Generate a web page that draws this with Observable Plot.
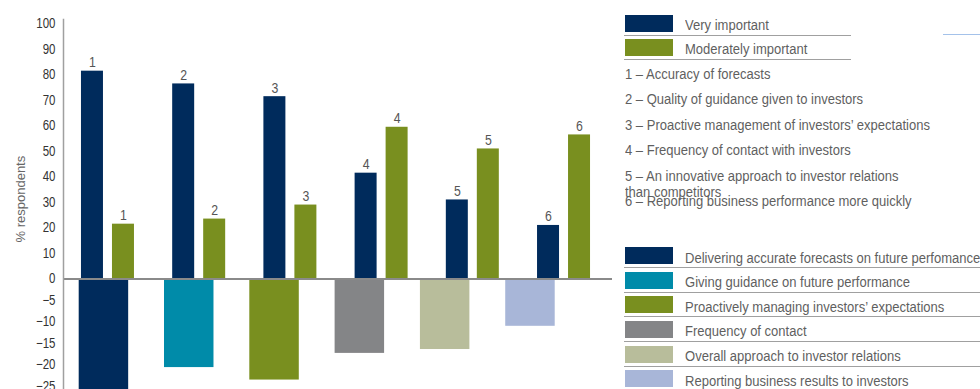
<!DOCTYPE html>
<html><head><meta charset="utf-8">
<script src="https://cdn.jsdelivr.net/npm/d3@7"></script>
<script src="https://cdn.jsdelivr.net/npm/@observablehq/plot@0.6"></script>
<style>
body{margin:0;background:#fff;}
#wrap{position:relative;width:980px;height:389px;overflow:hidden;font-family:'Liberation Sans',Arial,sans-serif;color:#5f5f5f;}
#wrap svg{position:absolute;left:0;top:0;}
.sw{position:absolute;left:625px;width:48px;height:17px;}
.lab,.item{position:absolute;font-size:15.5px;line-height:17px;white-space:nowrap;transform:scaleX(0.84);transform-origin:0 0;}
.lab{left:685px;}
.item{left:625px;}
.hr{position:absolute;height:0;border-top:1.5px solid #a0a0a0;}
</style></head><body><div id="wrap"></div>
<script>
const groups = ["1","2","3","4","5","6"];
const veryImportant = [81.5,76.5,71.5,41.5,31,21];
const moderatelyImportant = [21.5,23.5,29,59.5,51,56.5];
const seriesNames = ["Very important","Moderately important"];
const seriesColors = ["#002b5c","#798f1f"];
const factorLabels = [
  "1 – Accuracy of forecasts",
  "2 – Quality of guidance given to investors",
  "3 – Proactive management of investors’ expectations",
  "4 – Frequency of contact with investors",
  "5 – An innovative approach to investor relations\nthan competitors",
  "6 – Reporting business performance more quickly"
];
const lowerCategories = [
  "Delivering accurate forecasts on future perfomance",
  "Giving guidance on future performance",
  "Proactively managing investors’ expectations",
  "Frequency of contact",
  "Overall approach to investor relations",
  "Reporting business results to investors"
];
const lowerValues = [-30,-20.6,-23.5,-17.3,-16.4,-11];
const lowerColors = ["#002b5c","#008ba9","#798f1f","#848587","#b8bd9b","#a8b6d8"];
const upperTicks = [0,10,20,30,40,50,60,70,80,90,100];
const lowerTicks = [-5,-10,-15,-20,-25];

const font = "'Liberation Sans',Arial,sans-serif";
const wrap = document.getElementById("wrap");

// condense short chart texts (the reference uses a condensed face)
function condense(svg){
  svg.querySelectorAll("text").forEach(t=>{
    const tr = t.getAttribute("transform");
    if (tr && !tr.includes("rotate")) t.setAttribute("transform", tr + " scale(0.82,1)");
  });
  return svg;
}

const upper = groups.map((g,i)=>({group:g, very:veryImportant[i], moderate:moderatelyImportant[i]}));
const topPlot = Plot.plot({
  width:612, height:389, marginTop:23.5, marginBottom:110.5, marginLeft:63, marginRight:0,
  style:{background:"transparent", fontFamily:font, fontSize:"14px", color:"#333"},
  x:{domain:groups, range:[63,608], paddingInner:0.419, paddingOuter:0.197, round:false, axis:null},
  y:{domain:[0,100], axis:null},
  marks:[
    Plot.barY(upper, {x:"group", y:"very", fill:seriesColors[0], insetRight:31}),
    Plot.barY(upper, {x:"group", y:"moderate", fill:seriesColors[1], insetLeft:31}),
    Plot.text(upper, {x:"group", y:"very", text:"group", dx:-15.5, dy:-4, lineAnchor:"bottom", fontSize:15, fill:"#555"}),
    Plot.text(upper, {x:"group", y:"moderate", text:"group", dx:15.5, dy:-4, lineAnchor:"bottom", fontSize:15, fill:"#555"}),
    Plot.axisY({ticks:upperTicks, tickSize:0, tickPadding:8, label:null, fontSize:14, color:"#333"})
  ]
});
wrap.appendChild(condense(topPlot));

const lower = lowerCategories.map((c,i)=>({cat:c, value:lowerValues[i]}));
const lowPlot = Plot.plot({
  width:612, height:389, marginTop:19, marginBottom:0, marginLeft:63, marginRight:0,
  style:{background:"transparent", fontFamily:font, fontSize:"14px", color:"#333"},
  x:{domain:lowerCategories, range:[63,570.4], paddingInner:0.42, paddingOuter:0.184, round:false, axis:null},
  y:{domain:[-25,0], range:[386,278.5], axis:null},
  color:{domain:lowerCategories, range:lowerColors},
  marks:[
    Plot.barY(lower, {x:"cat", y:"value", fill:"cat"}),
    Plot.ruleY([0], {stroke:"#8a8a8a", strokeWidth:2}),
    Plot.frame({anchor:"left", stroke:"#a0a0a0", strokeWidth:1.5}),
    Plot.axisY({ticks:lowerTicks, tickSize:0, tickPadding:8, label:null, fontSize:14, color:"#333"}),
    Plot.text(["% respondents"], {text:d=>d, frameAnchor:"left", rotate:-90, dx:-43, dy:38, fontFamily:font, fontSize:13, fill:"#666"})
  ]
});
wrap.appendChild(condense(lowPlot));

function add(cls, css, text){
  const d = document.createElement("div");
  d.className = cls;
  Object.assign(d.style, css);
  if (text != null) d.textContent = text;
  wrap.appendChild(d);
  return d;
}
// upper legend
seriesNames.forEach((n,i)=>{
  const t = 15 + 24*i;
  add("sw", {top:t+"px", background:seriesColors[i]});
  add("lab", {top:(t+0.5)+"px"}, n);
  add("hr", {top:(t+20)+"px", left:"624px", width:"227px"});
});
factorLabels.forEach((n,i)=>{
  const d = add("item", {top:(66+25.4*i)+"px", lineHeight:"16.6px"});
  n.split("\n").forEach((line,j)=>{
    if (j) d.appendChild(document.createElement("br"));
    d.appendChild(document.createTextNode(line));
  });
});
add("hr", {top:"33.5px", left:"943px", width:"40px", borderTopColor:"#a4c2ea"});
// lower legend
lowerCategories.forEach((n,i)=>{
  const t = 247.3 + 24.55*i;
  add("sw", {top:t+"px", background:lowerColors[i]});
  add("lab", {top:(t+1.5)+"px"}, n);
  if (i < 5) add("hr", {top:(t+20)+"px", left:"624px", width:"360px"});
});
</script></body></html>
